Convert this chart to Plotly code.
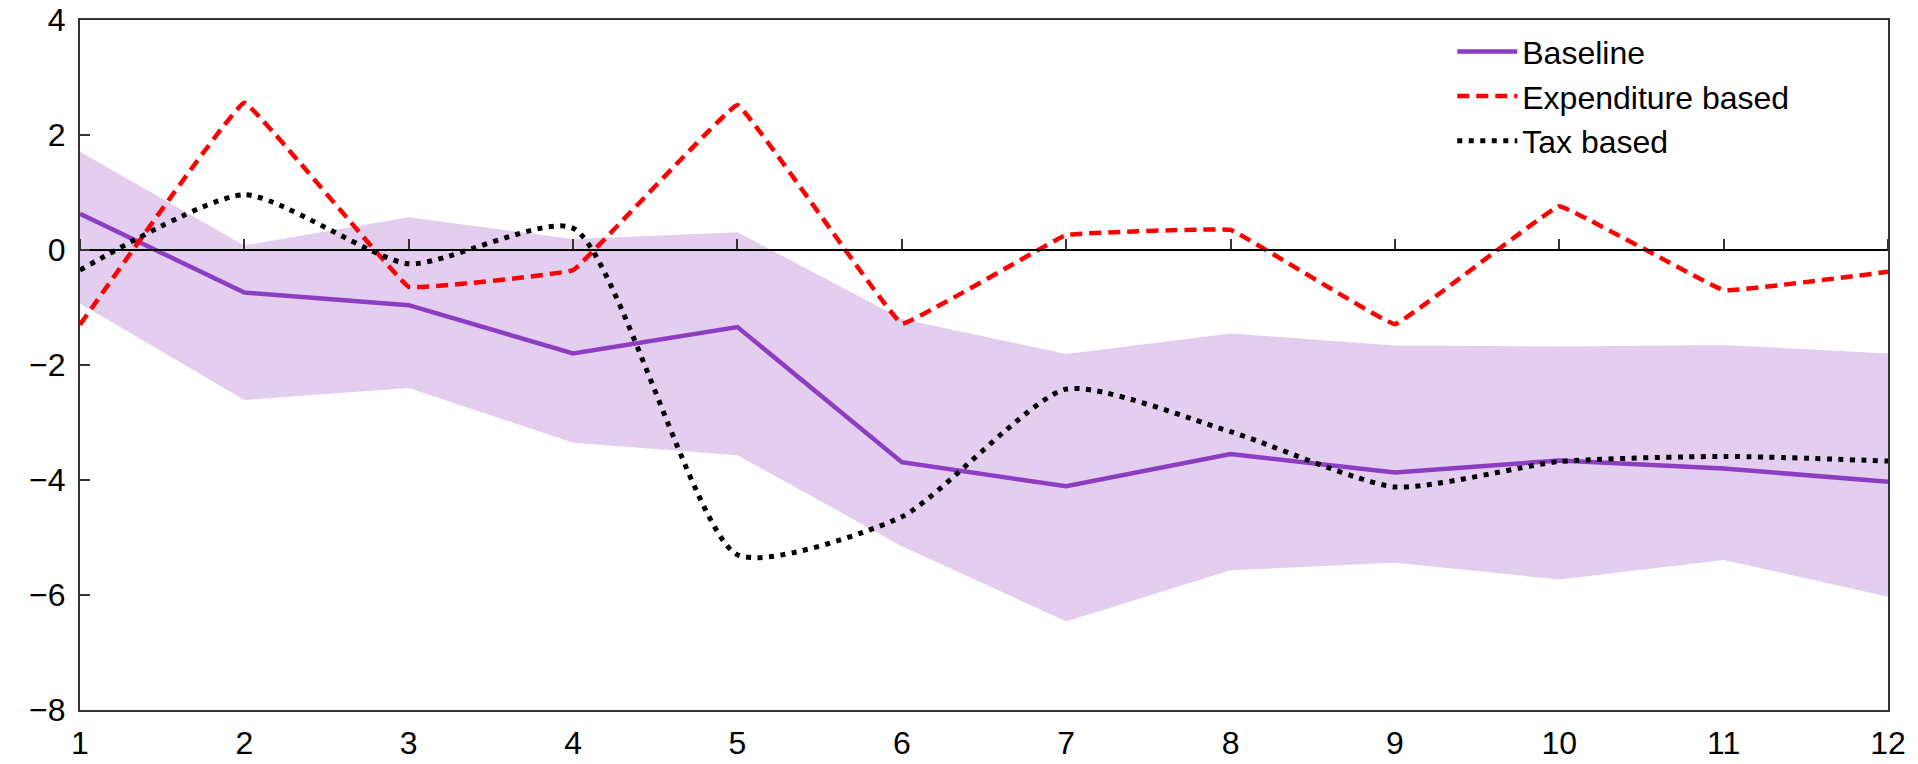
import plotly.graph_objects as go

# Horizon (periods) and series values
periods = [1, 2, 3, 4, 5, 6, 7, 8, 9, 10, 11, 12]
baseline = [0.63, -0.74, -0.96, -1.80, -1.34, -3.69, -4.11, -3.55, -3.87, -3.66, -3.80, -4.03]
band_upper = [1.71, 0.08, 0.57, 0.19, 0.31, -1.20, -1.81, -1.45, -1.66, -1.68, -1.65, -1.80]
band_lower = [-0.93, -2.61, -2.40, -3.35, -3.57, -5.15, -6.46, -5.57, -5.44, -5.73, -5.39, -6.03]
expenditure = [-1.30, 2.56, -0.64, -0.35, 2.52, -1.28, 0.26, 0.35, -1.29, 0.76, -0.70, -0.38]
tax = [-0.35, 0.96, -0.24, 0.38, -5.30, -4.64, -2.42, -3.16, -4.12, -3.68, -3.59, -3.67]

y_ticks = [-8, -6, -4, -2, 0, 2, 4]

FONT = "Liberation Sans, Arial, sans-serif"
PURPLE = "#8C3DC2"
BAND = "#E3CEEF"
FS = 32

fig = go.Figure()

# Confidence band
fig.add_trace(go.Scatter(x=periods, y=band_lower, mode="lines",
                         line=dict(width=0, color=BAND), showlegend=False,
                         hoverinfo="skip"))
fig.add_trace(go.Scatter(x=periods, y=band_upper, mode="lines",
                         line=dict(width=0, color=BAND), fill="tonexty",
                         fillcolor=BAND, showlegend=False, hoverinfo="skip"))

fig.add_trace(go.Scatter(x=periods, y=baseline, mode="lines", name="Baseline",
                         line=dict(color=PURPLE, width=4.5)))
fig.add_trace(go.Scatter(x=periods, y=expenditure, mode="lines",
                         name="Expenditure based",
                         line=dict(color="#FF0000", width=4.5, dash="12px,7px",
                                   shape="spline", smoothing=0.15)))
fig.add_trace(go.Scatter(x=periods, y=tax, mode="lines", name="Tax based",
                         line=dict(color="#000000", width=5, dash="5px,6.5px",
                                   shape="spline", smoothing=0.6)))

# Invisible helper trace so the zero-line axis is drawn
fig.add_trace(go.Scatter(x=periods, y=[None] * len(periods), xaxis="x2",
                         showlegend=False, hoverinfo="skip"))

fig.update_layout(
    width=1918, height=764,
    margin=dict(l=80, r=30, t=20, b=54, autoexpand=False),
    paper_bgcolor="white", plot_bgcolor="white",
    font=dict(family=FONT, size=FS, color="#000000"),
    showlegend=True,
    legend=dict(x=0.759, y=0.994, xanchor="left", yanchor="top",
                traceorder="normal",
                bgcolor="rgba(0,0,0,0)", borderwidth=0,
                font=dict(family=FONT, size=FS, color="#000000"),
                itemwidth=60, tracegroupgap=0),
    xaxis=dict(range=[1, 12], tickmode="array", tickvals=periods,
               ticktext=[str(p) for p in periods],
               showgrid=False, zeroline=False, ticks="",
               showline=True, linecolor="#333333", linewidth=2, mirror=True,
               ticklabelstandoff=4,
               tickfont=dict(family=FONT, size=FS, color="#000000")),
    xaxis2=dict(range=[1, 12], overlaying="x", anchor="free",
                position=8 / 12, side="top", tickmode="array",
                tickvals=periods, showticklabels=False, ticks="outside",
                ticklen=10, tickwidth=1.5, tickcolor="#333333",
                showline=True, linecolor="#000000", linewidth=2,
                showgrid=False, zeroline=False),
    yaxis=dict(range=[-8, 4], tickmode="array", tickvals=y_ticks,
               showgrid=False, zeroline=False, ticks="inside", ticklen=10,
               tickwidth=1.5, tickcolor="#333333",
               showline=True, linecolor="#333333", linewidth=2, mirror=True,
               ticklabelstandoff=6,
               tickfont=dict(family=FONT, size=FS, color="#000000")),
)

fig.write_html("out.html")
